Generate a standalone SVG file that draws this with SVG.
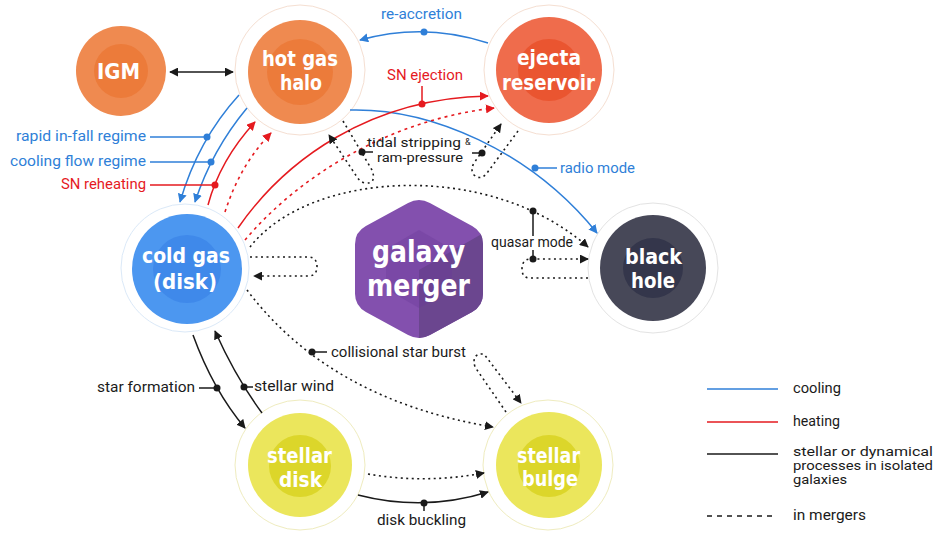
<svg xmlns="http://www.w3.org/2000/svg" width="943" height="536" viewBox="0 0 943 536">
<style>
.nl{font-family:"DejaVu Sans Condensed","DejaVu Sans",sans-serif;font-stretch:condensed;font-weight:700;font-size:21px;fill:#fff}
.nb{font-size:31px}
.lb{font-family:Roboto,"Liberation Sans",sans-serif;font-size:14px}
.sm{font-size:12.5px}
.lg{font-size:12px}
.blue{fill:#2f7fd8}
.red{fill:#e51a1f}
.blk{fill:#1a1a1a}
.cb{fill:none;stroke:#2f7fd8;stroke-width:1.5}
.cr{fill:none;stroke:#e51a1f;stroke-width:1.5}
.ck{fill:none;stroke:#1a1a1a;stroke-width:1.5}
.dr{fill:none;stroke:#e51a1f;stroke-width:1.6;stroke-dasharray:3 4}
.dk{fill:none;stroke:#1a1a1a;stroke-width:1.6;stroke-dasharray:2 3.5}
.ring{fill:#fff;stroke-width:1}
</style>
<defs>
<marker id="ab" viewBox="0 0 10 10" refX="9" refY="5" markerWidth="9" markerHeight="9" markerUnits="userSpaceOnUse" orient="auto"><path d="M0,0 L10,5 L0,10 z" fill="#2f7fd8"/></marker>
<marker id="ar" viewBox="0 0 10 10" refX="9" refY="5" markerWidth="9" markerHeight="9" markerUnits="userSpaceOnUse" orient="auto"><path d="M0,0 L10,5 L0,10 z" fill="#e51a1f"/></marker>
<marker id="ak" viewBox="0 0 10 10" refX="9" refY="5" markerWidth="9" markerHeight="9" markerUnits="userSpaceOnUse" orient="auto-start-reverse"><path d="M0,0 L10,5 L0,10 z" fill="#1a1a1a"/></marker>
<clipPath id="hexclip"><path d="M408.1,202.95 Q419,197 429.9,202.95 L472.1,226.05 Q483,232 483,244.2 L483,293.8 Q483,306 472.1,311.95 L429.9,335.05 Q419,341 408.1,335.05 L365.9,311.95 Q355,306 355,293.8 L355,244.2 Q355,232 365.9,226.05 Z"/></clipPath>
</defs>

<g id="node-igm">
<circle cx="121" cy="71" r="45" fill="#ef8a50"/>
<circle cx="121" cy="71" r="27" fill="#ec7b3a"/>
<text class="nl" x="97" y="79" textLength="43" lengthAdjust="spacingAndGlyphs">IGM</text>
</g>
<g id="node-hotgas">
<circle class="ring" cx="300" cy="70" r="65" stroke="#f5dfd2"/>
<circle cx="300" cy="72" r="52" fill="#ef8a50"/>
<circle cx="300" cy="72" r="33" fill="#ec7b3a"/>
<text class="nl" x="262" y="66" textLength="76" lengthAdjust="spacingAndGlyphs">hot gas</text>
<text class="nl" x="280" y="90" textLength="42" lengthAdjust="spacingAndGlyphs">halo</text>
</g>
<g id="node-ejecta">
<circle class="ring" cx="549" cy="70" r="65" stroke="#f5dfd2"/>
<circle cx="549" cy="70" r="53" fill="#ef6c4c"/>
<circle cx="549" cy="70" r="31" fill="#ea5530"/>
<text class="nl" x="517" y="65" textLength="64" lengthAdjust="spacingAndGlyphs">ejecta</text>
<text class="nl" x="502" y="90" textLength="93" lengthAdjust="spacingAndGlyphs">reservoir</text>
</g>
<g id="node-coldgas">
<circle class="ring" cx="185" cy="268" r="64" stroke="#dbe9f8"/>
<circle cx="187" cy="269" r="55" fill="#4c97f0"/>
<circle cx="187" cy="269" r="34" fill="#3f89ea"/>
<text class="nl" x="142" y="263" textLength="88" lengthAdjust="spacingAndGlyphs">cold gas</text>
<text class="nl" x="153" y="289" textLength="64" lengthAdjust="spacingAndGlyphs">(disk)</text>
</g>
<g id="node-merger">
<path d="M408.1,202.95 Q419,197 429.9,202.95 L472.1,226.05 Q483,232 483,244.2 L483,293.8 Q483,306 472.1,311.95 L429.9,335.05 Q419,341 408.1,335.05 L365.9,311.95 Q355,306 355,293.8 L355,244.2 Q355,232 365.9,226.05 Z" fill="#8350ae"/>
<g clip-path="url(#hexclip)">
<polygon points="419,270 492,228 492,350 419,350" fill="#6b468f"/>
<polygon points="419,230 452,249 452,289 419,308 386,289 386,249" fill="#6a3a98" opacity="0.35"/>
</g>
<text class="nl nb" x="372" y="262" textLength="93" lengthAdjust="spacingAndGlyphs">galaxy</text>
<text class="nl nb" x="367" y="296" textLength="103" lengthAdjust="spacingAndGlyphs">merger</text>
</g>
<g id="node-blackhole">
<circle class="ring" cx="653" cy="268" r="65" stroke="#e3e3e3"/>
<circle cx="653" cy="268" r="53" fill="#474858"/>
<circle cx="653" cy="268" r="30" fill="#34364b"/>
<text class="nl" x="625" y="264" textLength="57" lengthAdjust="spacingAndGlyphs">black</text>
<text class="nl" x="631" y="288" textLength="44" lengthAdjust="spacingAndGlyphs">hole</text>
</g>
<g id="node-stellardisk">
<circle class="ring" cx="300" cy="465" r="65" stroke="#efecbf"/>
<circle cx="300" cy="465" r="52" fill="#ebe65c"/>
<circle cx="300" cy="466" r="31" fill="#dcd62a"/>
<text class="nl" x="267" y="463" textLength="65" lengthAdjust="spacingAndGlyphs">stellar</text>
<text class="nl" x="279" y="487" textLength="43" lengthAdjust="spacingAndGlyphs">disk</text>
</g>
<g id="node-stellarbulge">
<circle class="ring" cx="548" cy="465" r="65" stroke="#efecbf"/>
<circle cx="549" cy="465" r="53" fill="#ebe65c"/>
<circle cx="549" cy="466" r="31" fill="#dcd62a"/>
<text class="nl" x="517" y="463" textLength="63" lengthAdjust="spacingAndGlyphs">stellar</text>
<text class="nl" x="522" y="486" textLength="56" lengthAdjust="spacingAndGlyphs">bulge</text>
</g>

<g id="connectors">
<path class="ck" d="M170,72 L233,72" marker-start="url(#ak)" marker-end="url(#ak)"/>
<path class="cb" d="M488,43 Q424,22 360,40" marker-end="url(#ab)"/>
<circle cx="424" cy="32" r="3.5" fill="#2f7fd8"/>
<path class="cb" d="M350,110 C430,108 530,150 597,233" marker-end="url(#ab)"/>
<circle cx="535" cy="168" r="3.5" fill="#2f7fd8"/>
<path class="cb" d="M535,168 L557,168"/>
<path class="cb" d="M239,95 Q198,140 180,202" marker-end="url(#ab)"/>
<path class="cb" d="M150,137 L207,137"/>
<circle cx="207" cy="137" r="3.5" fill="#2f7fd8"/>
<path class="cb" d="M247,108 Q212,150 195,202" marker-end="url(#ab)"/>
<path class="cb" d="M150,162 L211,162"/>
<circle cx="211" cy="162" r="3.5" fill="#2f7fd8"/>
<path class="cr" d="M208,205 Q220,160 255,122" marker-end="url(#ar)"/>
<path class="cr" d="M150,185 L215,185"/>
<circle cx="215" cy="185" r="3.5" fill="#e51a1f"/>
<path class="dr" d="M225,212 Q240,165 271,133" marker-end="url(#ar)"/>
<path class="cr" d="M238,228 C285,160 370,98 488,96" marker-end="url(#ar)"/>
<path class="cr" d="M422,86 L422,104"/>
<circle cx="422" cy="104" r="3.5" fill="#e51a1f"/>
<path class="dr" d="M245,240 C300,175 390,120 494,108" marker-end="url(#ar)"/>
<path class="dk" d="M343,121 L372,170 Q377,184 365,183 Q360,182 357,177 L329,135" marker-end="url(#ak)"/>
<path class="dk" d="M518,131 L487,173 Q481,181 474,175 Q470,170 474,163 L501,124" marker-end="url(#ak)"/>
<circle cx="362" cy="152" r="3.5" fill="#1a1a1a"/>
<path class="ck" d="M362,152 L373,152"/>
<circle cx="482" cy="153" r="3.5" fill="#1a1a1a"/>
<path class="ck" d="M472,153 L482,153"/>
<path class="dk" d="M250,247 C310,170 490,160 588,247" marker-end="url(#ak)"/>
<circle cx="533" cy="211" r="3.5" fill="#1a1a1a"/>
<path class="ck" d="M533,211 L533,236 M533,250 L533,259"/>
<path class="dk" d="M588,278 L530,278 Q522,278 522,269 Q522,259 531,259 L588,259" marker-end="url(#ak)"/>
<circle cx="533" cy="259" r="3.5" fill="#1a1a1a"/>
<path class="dk" d="M250,257 L308,257 Q317,257 317,266.5 Q317,276 308,276 L254,276" marker-end="url(#ak)"/>
<path class="dk" d="M247,290 Q330,400 493,427" marker-end="url(#ak)"/>
<circle cx="312" cy="352" r="3.5" fill="#1a1a1a"/>
<path class="ck" d="M312,352 L327,352"/>
<path class="dk" d="M506,412 L475,367 Q471,353 484,354 L521,403" marker-end="url(#ak)"/>
<path class="ck" d="M193,335 Q213,390 245,428" marker-end="url(#ak)"/>
<path class="ck" d="M199,388 L217,388"/>
<circle cx="217" cy="388" r="3.5" fill="#1a1a1a"/>
<path class="ck" d="M262,413 Q236,378 215,331" marker-end="url(#ak)"/>
<circle cx="244" cy="387" r="3.5" fill="#1a1a1a"/>
<path class="ck" d="M244,387 L253,387"/>
<path class="dk" d="M368,474 Q425,484 484,473" marker-end="url(#ak)"/>
<path class="ck" d="M358,495 Q424,512 488,492" marker-end="url(#ak)"/>
<circle cx="424" cy="503" r="3.5" fill="#1a1a1a"/>
<path class="ck" d="M424,503 L424,511"/>
</g>

<g id="labels">
<text class="lb blue" x="381" y="19" textLength="81" lengthAdjust="spacingAndGlyphs">re-accretion</text>
<text class="lb red" x="387" y="80" textLength="76" lengthAdjust="spacingAndGlyphs">SN ejection</text>
<text class="lb blue" x="16" y="141" textLength="130" lengthAdjust="spacingAndGlyphs">rapid in-fall regime</text>
<text class="lb blue" x="10" y="166" textLength="136" lengthAdjust="spacingAndGlyphs">cooling flow regime</text>
<text class="lb red" x="61" y="189" textLength="85" lengthAdjust="spacingAndGlyphs">SN reheating</text>
<text class="lb sm blk" x="367" y="147" textLength="94" lengthAdjust="spacingAndGlyphs">tidal stripping</text>
<text class="lb blk" x="465" y="145" style="font-size:9px">&amp;</text>
<text class="lb sm blk" x="377" y="162" textLength="86" lengthAdjust="spacingAndGlyphs">ram-pressure</text>
<text class="lb blue" x="560" y="173" textLength="75" lengthAdjust="spacingAndGlyphs">radio mode</text>
<text class="lb blk" x="491" y="247" textLength="82" lengthAdjust="spacingAndGlyphs">quasar mode</text>
<text class="lb blk" x="331" y="357" textLength="135" lengthAdjust="spacingAndGlyphs">collisional star burst</text>
<text class="lb blk" x="97" y="392" textLength="98" lengthAdjust="spacingAndGlyphs">star formation</text>
<text class="lb blk" x="254" y="391" textLength="80" lengthAdjust="spacingAndGlyphs">stellar wind</text>
<text class="lb blk" x="377" y="525" textLength="89" lengthAdjust="spacingAndGlyphs">disk buckling</text>
</g>

<g id="legend">
<path d="M707,389 L778,389" class="cb"/>
<text class="lb blk" x="793" y="393" textLength="48" lengthAdjust="spacingAndGlyphs">cooling</text>
<path d="M707,422 L778,422" class="cr"/>
<text class="lb blk" x="793" y="426" textLength="47" lengthAdjust="spacingAndGlyphs">heating</text>
<path d="M707,454 L778,454" class="ck"/>
<text class="lb lg blk" x="793" y="456" textLength="140" lengthAdjust="spacingAndGlyphs">stellar or dynamical</text>
<text class="lb lg blk" x="793" y="470" textLength="140" lengthAdjust="spacingAndGlyphs">processes in isolated</text>
<text class="lb lg blk" x="793" y="484" textLength="54" lengthAdjust="spacingAndGlyphs">galaxies</text>
<path d="M707,516 L776,516" fill="none" stroke="#1a1a1a" stroke-width="1.5" stroke-dasharray="5 5"/>
<text class="lb blk" x="793" y="520" textLength="73" lengthAdjust="spacingAndGlyphs">in mergers</text>
</g>
</svg>
